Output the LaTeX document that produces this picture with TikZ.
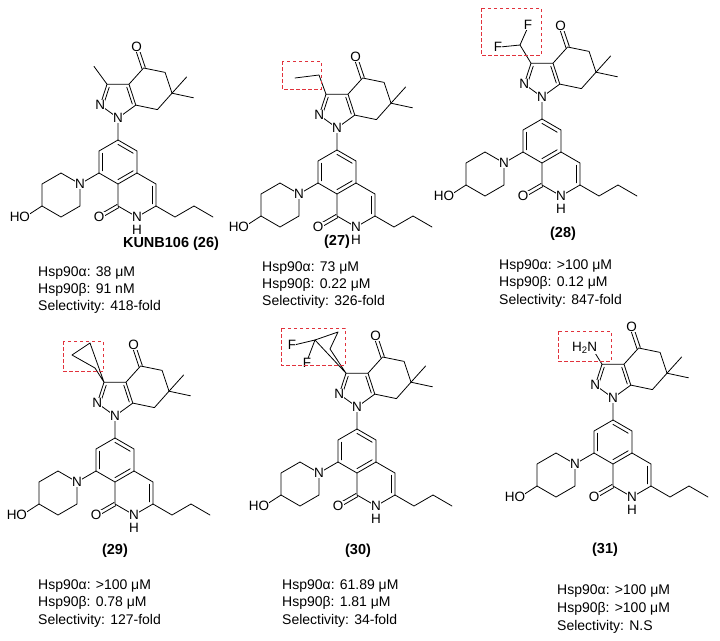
\documentclass[tikz,border=0pt]{standalone}
\usepackage{fontspec}
\setmainfont{Liberation Sans}
\usetikzlibrary{calc}
\definecolor{hlred}{RGB}{225,50,60}
\tikzset{bond/.style={line width=0.8pt,line cap=round,line join=round},
 atom/.style={fill=white,inner sep=0.3pt,font=\fontsize{13.5}{13.5}\selectfont},
 info/.style={anchor=west,inner sep=0pt,font=\fontsize{14}{16}\selectfont},
 cid/.style={inner sep=0pt,font=\fontsize{14.5}{16}\selectfont\bfseries},
 hl/.style={draw=hlred,line width=0.9pt,dash pattern=on 3.5pt off 2.5pt}}
\newcommand\inner[3]{\draw[bond] ($(#1)!0.2!(#3)$) -- ($(#2)!0.2!(#3)$);}
\newcommand\dbl[2]{\draw[bond] ($(#1)!1.8pt!90:(#2)$) -- ($(#2)!1.8pt!-90:(#1)$); \draw[bond] ($(#1)!1.8pt!-90:(#2)$) -- ($(#2)!1.8pt!90:(#1)$);}
\newcommand\core[3]{%
\begin{scope}[shift={(#2)}]
\coordinate (#1a1) at (0,0); \coordinate (#1a2) at (19,11); \coordinate (#1a3) at (19,33);
\coordinate (#1a4) at (0,44); \coordinate (#1a5) at (-19,33); \coordinate (#1a6) at (-19,11);
\coordinate (#1ca) at (0,22);
\coordinate (#1b1) at (38,44); \coordinate (#1b2) at (38,66); \coordinate (#1b3) at (19,77);
\coordinate (#1b4) at (0,66); \coordinate (#1cb) at (19,55); \coordinate (#1o1) at (-19,77);
\coordinate (#1p1) at (57,77); \coordinate (#1p2) at (76,66); \coordinate (#1p3) at (95,77);
\coordinate (#1pn) at (-38,44); \coordinate (#1q2) at (-38,66); \coordinate (#1q3) at (-57,77);
\coordinate (#1q4) at (-76,66); \coordinate (#1q5) at (-76,44); \coordinate (#1q6) at (-57,33);
\coordinate (#1oh) at (-93,77);
\coordinate (#1n1) at (0,-22); \coordinate (#1n2) at (-17.8,-34.9); \coordinate (#1c3) at (-11,-55.8);
\coordinate (#1c3a) at (11,-55.8); \coordinate (#1c7a) at (17.8,-34.9); \coordinate (#1cp) at (0,-40.7);
\coordinate (#1c4) at (25.6,-72); \coordinate (#1c5) at (47.1,-67.6); \coordinate (#1c6) at (54,-46.8);
\coordinate (#1c7) at (39.4,-30.4); \coordinate (#1ch) at (32.5,-51.2); \coordinate (#1o4) at (18.6,-92.9);
\coordinate (#1m1) at (68.7,-63.1); \coordinate (#1m2) at (75.5,-42.2);
\draw[bond] (#1a1) -- (#1a2) -- (#1a3) -- (#1a4) -- (#1a5) -- (#1a6) -- cycle;
\draw[bond] (#1a3) -- (#1b1) -- (#1b2) -- (#1b3) -- (#1b4) -- (#1a4);
\draw[bond] (#1b2) -- (#1p1) -- (#1p2) -- (#1p3);
\draw[bond] (#1a5) -- (#1pn) -- (#1q2) -- (#1q3) -- (#1q4) -- (#1q5) -- (#1q6) -- (#1pn);
\draw[bond] (#1q4) -- (#1oh);
\draw[bond] (#1a1) -- (#1n1) -- (#1n2) -- (#1c3) -- (#1c3a) -- (#1c7a) -- (#1n1);
\draw[bond] (#1c3a) -- (#1c4) -- (#1c5) -- (#1c6) -- (#1c7) -- (#1c7a);
\draw[bond] (#1c6) -- (#1m1); \draw[bond] (#1c6) -- (#1m2);
\inner{#1a1}{#1a2}{#1ca} \inner{#1a5}{#1a6}{#1ca} \inner{#1a3}{#1a4}{#1ca}
\inner{#1b1}{#1b2}{#1cb} \inner{#1n2}{#1c3}{#1cp} \inner{#1c3a}{#1c7a}{#1cp}
\dbl{#1b4}{#1o1} \dbl{#1c4}{#1o4}
#3
\node[atom] (#1N1) at (#1n1) {N};
\node[atom] (#1N2) at (#1n2) {N};
\node[atom] (#1NP) at (#1pn) {N};
\node[atom] (#1NH) at (#1b3) {N};
\node[atom,fill=none,inner sep=0pt] (#1H) at ($(#1b3)+(0,13)$) {H};
\node[atom] (#1O1) at (#1o1) {O};
\node[atom] (#1O4) at (#1o4) {O};
\node[atom,anchor=east,inner sep=0.3pt] (#1HO) at ($(#1oh)+(5.5,0)$) {HO};
\end{scope}}
\begin{document}
\begin{tikzpicture}[x=1pt,y=-1pt]
\useasboundingbox (0,0) rectangle (720,640);
% 26
\core{A}{118,140}{\draw[bond] (Ac3) -- (-24,-73.6);}
% 27
\core{B}{337,150}{\draw[bond] (Bc3) -- (-18,-75) -- (-42,-72);}
\draw[hl] (282,61) rectangle (321,89);
% 28
\core{C}{542,119}{\draw[bond] (Cc3) -- (-22,-74) -- (-14,-92); \draw[bond] (-22,-74) -- (-42,-72);
\node[atom] (CF1) at (-14,-94) {F}; \node[atom] (CF2) at (-44,-72) {F};}
\draw[hl] (481,8) rectangle (541,55);
% 29
\core{D}{115,438}{\draw[bond] (Dc3) -- (-20,-70) -- (-43,-83) -- (-25,-95) -- cycle;}
\draw[hl] (63,341) rectangle (103,371);
% 30
\core{E}{357,429}{\draw[bond] (Ec3) -- (-27,-80) -- (-19,-97) -- (-42,-89) -- cycle;
\draw[bond] (-42,-89) -- (-63,-84); \draw[bond] (-42,-89) -- (-50,-68);
\node[atom] (EF1) at (-65,-84) {F}; \node[atom] (EF2) at (-50,-66) {F};}
\draw[hl] (281,328) rectangle (345,365);
% 31
\core{F}{613,420}{\draw[bond] (Fc3) -- (-21,-72);
\node[atom,anchor=east] (FNH) at (-15.5,-72) {H{\fontsize{9.5}{10}\selectfont\raisebox{-2.5pt}{2}}N};}
\draw[hl] (558,331) rectangle (611,361);
% labels
\node[cid] (l26) at (171,244) {KUNB106 (26)};
\node[cid] (l27) at (337,242) {(27)};
\node[cid] (l28) at (563,234) {(28)};
\node[cid] (l29) at (115,551) {(29)};
\node[cid] (l30) at (358,551) {(30)};
\node[cid] (l31) at (605,550) {(31)};
\node[info] (t1a) at (38,273) {Hsp90α: 38 μM};
\node[info] (t1b) at (38,290) {Hsp90β: 91 nM};
\node[info] (t1c) at (38,307) {Selectivity: 418-fold};
\node[info] (t2a) at (262,268) {Hsp90α: 73 μM};
\node[info] (t2b) at (262,285) {Hsp90β: 0.22 μM};
\node[info] (t2c) at (262,302) {Selectivity: 326-fold};
\node[info] (t3a) at (499,266) {Hsp90α: >100 μM};
\node[info] (t3b) at (499,283) {Hsp90β: 0.12 μM};
\node[info] (t3c) at (499,301) {Selectivity: 847-fold};
\node[info] (t4a) at (38,586) {Hsp90α: >100 μM};
\node[info] (t4b) at (38,603) {Hsp90β: 0.78 μM};
\node[info] (t4c) at (38,621) {Selectivity: 127-fold};
\node[info] (t5a) at (282,586) {Hsp90α: 61.89 μM};
\node[info] (t5b) at (282,603) {Hsp90β: 1.81 μM};
\node[info] (t5c) at (282,621) {Selectivity: 34-fold};
\node[info] (t6a) at (557,591) {Hsp90α: >100 μM};
\node[info] (t6b) at (557,609) {Hsp90β: >100 μM};
\node[info] (t6c) at (557,627) {Selectivity: N.S};
\end{tikzpicture}
\end{document}
